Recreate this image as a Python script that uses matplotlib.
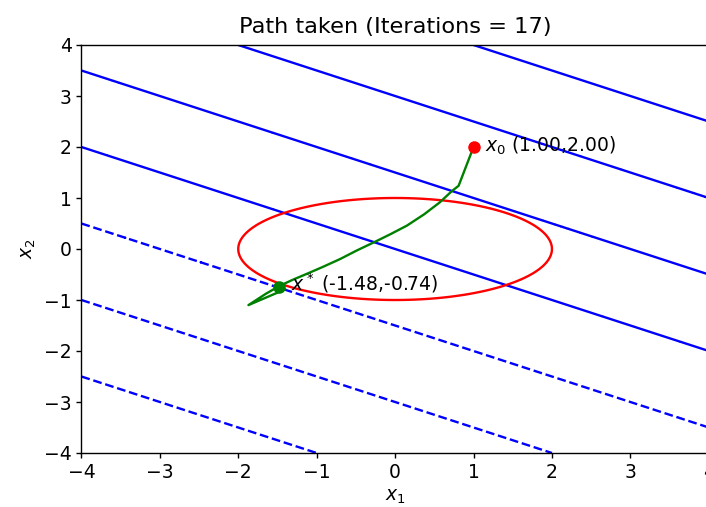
import numpy as np
import matplotlib
matplotlib.use("Agg")
import matplotlib.pyplot as plt

# Objective contour levels for f(x) = x1 + 2*x2
obj_coef = [1.0, 2.0]
levels = [-9, -6, -3, 0, 3, 6, 9]

# Constraint ellipse x1^2/a^2 + x2^2/b^2 = 1
ell_a = 2.0
ell_b = 1.0

# Path taken
path_x1 = [1.00, 0.81, 0.72, 0.57, 0.37, 0.15, -0.06, -0.27, -0.49, -0.70,
           -0.92, -1.13, -1.30, -1.47, -1.65, -1.87, -1.40, -1.48]
path_x2 = [2.00, 1.24, 1.13, 0.915, 0.68, 0.458, 0.29, 0.131, -0.03, -0.196,
           -0.35, -0.49, -0.60, -0.72, -0.88, -1.10, -0.79, -0.74]

x0 = (1.00, 2.00)
xstar = (-1.48, -0.74)
iterations = 17

FS = 13.5  # text size

fig = plt.figure(figsize=(7.06, 5.07), dpi=100)
ax = fig.add_axes([81.4 / 706, (507 - 453) / 507, 627.4 / 706, 408 / 507])

g = np.linspace(-4, 4, 401)
X1, X2 = np.meshgrid(g, g)
Z = obj_coef[0] * X1 + obj_coef[1] * X2
ax.contour(X1, X2, Z, levels=levels, colors='blue', linewidths=1.7)
C = X1**2 / ell_a**2 + X2**2 / ell_b**2 - 1
ax.contour(X1, X2, C, levels=[0], colors='red', linewidths=1.7)

ax.plot(path_x1, path_x2, color='green', linewidth=1.7)
ax.plot([x0[0]], [x0[1]], 'o', color='red', markersize=8)
ax.plot([xstar[0]], [xstar[1]], 'o', color='green', markersize=8)
ax.text(x0[0] + 0.15, x0[1] + 0.03, r'$x_0$ (%.2f,%.2f)' % x0, va='center', fontsize=FS)
ax.text(xstar[0] + 0.15, xstar[1] + 0.07, r'$x^*$ (%.2f,%.2f)' % xstar, va='center', fontsize=FS)

ax.set_xlim(-4, 4)
ax.set_ylim(-4, 4)
for sp in ax.spines.values():
    sp.set_linewidth(1.0)
ax.tick_params(labelsize=FS, width=1.0, length=3.5, pad=3.5)
ax.set_xlabel(r'$x_1$', fontsize=FS, labelpad=4)
ax.set_ylabel(r'$x_2$', fontsize=FS, labelpad=4)
ax.set_title('Path taken (Iterations = %d)' % iterations, fontsize=16.2, pad=9)

fig.savefig('out.png', dpi=100)
